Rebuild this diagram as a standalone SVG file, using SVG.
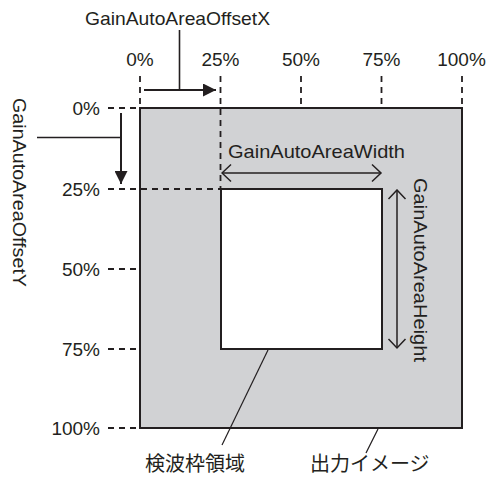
<svg xmlns="http://www.w3.org/2000/svg" width="492" height="479" viewBox="0 0 492 479">
  <style>
    .t { font-family: "Liberation Sans", Arial, sans-serif; font-size: 19px; fill: #231f20; }
    .j { font-family: "Liberation Sans", "Noto Sans CJK JP", sans-serif; font-size: 20px; fill: #231f20; }
    .dash { stroke: #231f20; stroke-width: 1.8; stroke-dasharray: 6 5; fill: none; }
    .ln { stroke: #231f20; fill: none; }
  </style>
  <defs>
    <marker id="solid" viewBox="0 0 13 13" refX="13" refY="6.5" markerWidth="13" markerHeight="13" markerUnits="userSpaceOnUse" orient="auto">
      <path d="M0,0 L13,6.5 L0,13 Z" fill="#231f20"/>
    </marker>
    <marker id="open" viewBox="0 0 12 20" refX="10.5" refY="10" markerWidth="12" markerHeight="20" markerUnits="userSpaceOnUse" orient="auto-start-reverse">
      <path d="M1.5,1.5 L10.5,10 L1.5,18.5" fill="none" stroke="#231f20" stroke-width="1.5"/>
    </marker>
  </defs>

  <g id="output-image">
    <rect x="140" y="108" width="322" height="320" fill="#d1d2d4" stroke="#231f20" stroke-width="2"/>
  </g>
  <g id="detection-area">
    <rect x="221" y="189" width="161" height="160" fill="#ffffff" stroke="#231f20" stroke-width="2"/>
  </g>

  <g id="scale-x">
    <text class="t" x="140" y="66" text-anchor="middle">0%</text>
    <text class="t" x="220.5" y="66" text-anchor="middle">25%</text>
    <text class="t" x="301" y="66" text-anchor="middle">50%</text>
    <text class="t" x="381.5" y="66" text-anchor="middle">75%</text>
    <text class="t" x="461.5" y="66" text-anchor="middle">100%</text>
  </g>
  <g id="scale-y">
    <text class="t" x="100" y="115" text-anchor="end">0%</text>
    <text class="t" x="100" y="196" text-anchor="end">25%</text>
    <text class="t" x="100" y="276" text-anchor="end">50%</text>
    <text class="t" x="100" y="356" text-anchor="end">75%</text>
    <text class="t" x="100" y="435" text-anchor="end">100%</text>
  </g>

  <g id="label-offset-x">
    <text class="t" x="177.5" y="25" text-anchor="middle" textLength="185" lengthAdjust="spacingAndGlyphs">GainAutoAreaOffsetX</text>
  </g>
  <g id="label-offset-y">
    <text class="t" transform="translate(13,192.5) rotate(90)" x="0" y="0" text-anchor="middle" textLength="189" lengthAdjust="spacingAndGlyphs">GainAutoAreaOffsetY</text>
  </g>
  <g id="label-width">
    <text class="t" x="316.5" y="158" text-anchor="middle" textLength="177" lengthAdjust="spacingAndGlyphs">GainAutoAreaWidth</text>
  </g>
  <g id="label-height">
    <text class="t" transform="translate(414,270) rotate(90)" x="0" y="0" text-anchor="middle" textLength="184" lengthAdjust="spacingAndGlyphs">GainAutoAreaHeight</text>
  </g>
  <g id="label-detection">
    <text class="j" x="145" y="471">検波枠領域</text>
  </g>
  <g id="label-output">
    <text class="j" x="310" y="471">出力イメージ</text>
  </g>

  <g id="connectors">
    <!-- top ticks -->
    <line class="dash" x1="140" y1="76" x2="140" y2="106"/>
    <line class="dash" x1="220.5" y1="76" x2="220.5" y2="189"/>
    <line class="dash" x1="301" y1="76" x2="301" y2="106"/>
    <line class="dash" x1="381.5" y1="76" x2="381.5" y2="106"/>
    <line class="dash" x1="462" y1="76" x2="462" y2="106"/>
    <!-- left ticks -->
    <line class="dash" x1="108" y1="108" x2="140" y2="108"/>
    <line class="dash" x1="108" y1="189" x2="221" y2="189"/>
    <line class="dash" x1="108" y1="269" x2="140" y2="269"/>
    <line class="dash" x1="108" y1="349" x2="140" y2="349"/>
    <line class="dash" x1="108" y1="428" x2="140" y2="428"/>
    <!-- offset arrows -->
    <line class="ln" x1="144" y1="90" x2="216" y2="90" stroke-width="2" marker-end="url(#solid)"/>
    <line class="ln" x1="179.5" y1="30" x2="179.5" y2="90" stroke-width="1.6"/>
    <line class="ln" x1="121" y1="113" x2="121" y2="184" stroke-width="2" marker-end="url(#solid)"/>
    <line class="ln" x1="37" y1="137.5" x2="121" y2="137.5" stroke-width="1.6"/>
    <!-- size arrows -->
    <line class="ln" x1="222" y1="173" x2="381" y2="173" stroke-width="1.5" marker-start="url(#open)" marker-end="url(#open)"/>
    <line class="ln" x1="397" y1="190" x2="397" y2="348" stroke-width="1.5" marker-start="url(#open)" marker-end="url(#open)"/>
    <!-- callouts -->
    <line class="ln" x1="268" y1="350" x2="222" y2="445" stroke-width="1.2"/>
    <line class="ln" x1="378" y1="429" x2="366" y2="453" stroke-width="1.2"/>
  </g>
</svg>
